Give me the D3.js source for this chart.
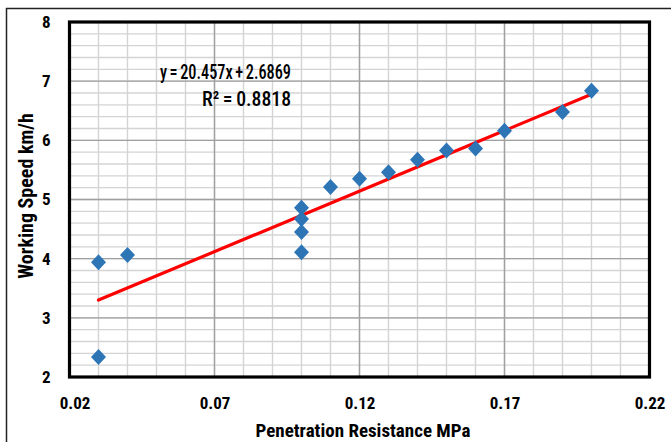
<!DOCTYPE html>
<html><head><meta charset="utf-8">
<script src="https://cdn.jsdelivr.net/npm/d3@7"></script>
<style>
html,body{margin:0;padding:0;background:#fff;}
svg{display:block;}
text{font-family:"Liberation Sans Narrow","Arial Narrow","Roboto Condensed",sans-serif;}
</style></head>
<body>
<svg id="c" width="671" height="442"></svg>
<script>
// Data
const penetration = [0.03, 0.03, 0.04, 0.10, 0.10, 0.10, 0.10, 0.11, 0.12, 0.13, 0.14, 0.15, 0.16, 0.17, 0.19, 0.20];
const speed       = [3.94, 2.34, 4.06, 4.86, 4.67, 4.45, 4.11, 5.21, 5.35, 5.46, 5.67, 5.83, 5.86, 6.16, 6.48, 6.84];
const xTicks = [0.02, 0.07, 0.12, 0.17, 0.22];
const yTicks = [2, 3, 4, 5, 6, 7, 8];
const slope = 20.457, intercept = 2.6869, r2 = 0.8818;
const trendX = [0.03, 0.20];

const svg = d3.select("#c");
const L = 69.5, R = 649.5, T = 22, B = 377;
const x = d3.scaleLinear().domain([0.02, 0.22]).range([L, R]);
const y = d3.scaleLinear().domain([2, 8]).range([B, T]);

// outer chart border
svg.append("rect").attr("x", 6.5).attr("y", 8.5).attr("width", 680).attr("height", 460)
  .attr("fill", "none").attr("stroke", "#222").attr("stroke-width", 1.5);

const g = svg.append("g");
// minor gridlines
const xMinor = d3.range(0.02, 0.2201, 0.01).map(v => +v.toFixed(2));
const yMinor = d3.range(2, 8.001, 0.2).map(v => +v.toFixed(1));
g.selectAll(".xm").data(xMinor).join("line")
  .attr("x1", d => x(d)).attr("x2", d => x(d)).attr("y1", T).attr("y2", B)
  .attr("stroke", "#d4d4d4").attr("stroke-width", 1.4);
g.selectAll(".ym").data(yMinor).join("line")
  .attr("y1", d => y(d)).attr("y2", d => y(d)).attr("x1", L).attr("x2", R)
  .attr("stroke", "#d4d4d4").attr("stroke-width", 1.4);
// major gridlines
g.selectAll(".xM").data(xTicks).join("line")
  .attr("x1", d => x(d)).attr("x2", d => x(d)).attr("y1", T).attr("y2", B)
  .attr("stroke", "#a0a0a0").attr("stroke-width", 1.4);
g.selectAll(".yM").data(yTicks).join("line")
  .attr("y1", d => y(d)).attr("y2", d => y(d)).attr("x1", L).attr("x2", R)
  .attr("stroke", "#a0a0a0").attr("stroke-width", 1.4);

// axes (labels only)
const xAxis = d3.axisBottom(x).tickValues(xTicks).tickFormat(d3.format(".2f")).tickSize(0).tickPadding(20);
const yAxis = d3.axisLeft(y).tickValues(yTicks).tickFormat(d3.format("d")).tickSize(0).tickPadding(19);
const xa = svg.append("g").attr("transform", `translate(0,${B})`).call(xAxis);
const ya = svg.append("g").attr("transform", `translate(${L},0)`).call(yAxis);
[xa, ya].forEach(a => {
  a.select(".domain").remove();
  a.selectAll("text").attr("fill", "#000").style("font-size", "17px").style("font-weight", "bold")
    .style("font-family", "'Liberation Sans Narrow','Roboto Condensed',sans-serif");
});
xa.selectAll("text").filter(d => d === xTicks[0]).attr("dx", 5);

// trendline
svg.append("line")
  .attr("x1", x(trendX[0])).attr("y1", y(slope * trendX[0] + intercept))
  .attr("x2", x(trendX[1])).attr("y2", y(slope * trendX[1] + intercept))
  .attr("stroke", "#ff0000").attr("stroke-width", 3.2).attr("stroke-linecap", "round");

// markers
const pts = penetration.map((p, i) => [p, speed[i]]);
svg.selectAll(".pt").data(pts).join("path")
  .attr("transform", d => `translate(${x(d[0])},${y(d[1])})`)
  .attr("d", "M0,-8L7.5,0L0,8L-7.5,0Z")
  .attr("fill", "#2e75b6");

// plot frame
svg.append("rect").attr("x", L).attr("y", T).attr("width", R - L).attr("height", B - T)
  .attr("fill", "none").attr("stroke", "#000").attr("stroke-width", 3.2);

// equation
svg.append("text").attr("x", 160).attr("y", 79)
  .attr("textLength", 131).attr("lengthAdjust", "spacingAndGlyphs")
  .style("font-size", "21px").style("font-weight", "500").style("word-spacing", "-1.5px").attr("fill", "#000")
  .text(`y = ${slope}x + ${intercept}`);
svg.append("text").attr("x", 202).attr("y", 106)
  .attr("textLength", 89).attr("lengthAdjust", "spacingAndGlyphs")
  .style("font-size", "21px").style("font-weight", "500").style("word-spacing", "-1px").attr("fill", "#000")
  .text(`R² = ${r2}`);

// axis titles
svg.append("text").attr("x", 363).attr("y", 437).attr("text-anchor", "middle")
  .style("font-size", "19px").style("font-weight", "bold").attr("fill", "#000")
  .text("Penetration Resistance MPa");
svg.append("text").attr("transform", "translate(33,196) rotate(-90)").attr("text-anchor", "middle")
  .style("font-size", "20px").style("font-weight", "bold").attr("fill", "#000")
  .text("Working Speed km/h");
</script>
</body></html>
